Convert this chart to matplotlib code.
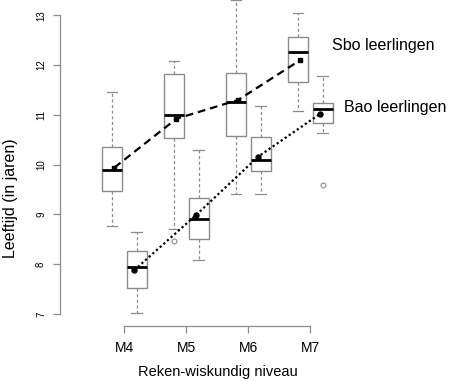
import matplotlib
matplotlib.use("Agg")
import matplotlib.pyplot as plt

plt.rcParams['font.family'] = ['Liberation Sans', 'DejaVu Sans']

levels = ["M4", "M5", "M6", "M7"]

# box stats per level: whisker low, q1, median, q3, whisker high
sbo_whislo = [8.76, 8.71, 9.40, 11.08]
sbo_q1 = [9.47, 10.54, 10.58, 11.66]
sbo_med = [9.89, 11.00, 11.25, 12.26]
sbo_q3 = [10.35, 11.81, 11.83, 12.56]
sbo_whishi = [11.46, 12.09, 13.30, 13.05]
sbo_fliers = [[], [8.46], [], []]
sbo_mean = [9.94, 10.92, 11.30, 12.10]

bao_whislo = [7.02, 8.08, 9.40, 10.64]
bao_q1 = [7.52, 8.51, 9.87, 10.83]
bao_med = [7.94, 8.91, 10.09, 11.12]
bao_q3 = [8.27, 9.32, 10.55, 11.24]
bao_whishi = [8.65, 10.29, 11.18, 11.78]
bao_fliers = [[], [], [], [9.59]]
bao_mean = [7.88, 8.99, 10.16, 11.02]

GRAY = "#8c8c8c"


def make_stats(lo, q1, med, q3, hi, fl):
    return [dict(whislo=a, q1=b, med=c, q3=d, whishi=e, fliers=f)
            for a, b, c, d, e, f in zip(lo, q1, med, q3, hi, fl)]


def draw_boxes(ax, stats, pos):
    ax.bxp(stats, positions=pos, widths=0.32, patch_artist=True,
           boxprops=dict(facecolor="white", edgecolor=GRAY, linewidth=1.0),
           whiskerprops=dict(color=GRAY, linestyle=(0, (2.5, 2)), linewidth=0.9),
           capprops=dict(color=GRAY, linewidth=0.9),
           medianprops=dict(color="black", linewidth=2.0, solid_capstyle="butt"),
           flierprops=dict(marker="o", markersize=3.5, markerfacecolor="none",
                           markeredgecolor=GRAY, markeredgewidth=0.8),
           capwidths=0.17, manage_ticks=False)


fig = plt.figure(figsize=(4.49, 3.81), dpi=100)
ax = fig.add_axes([60 / 449, 55.3 / 381, 280 / 449, 325.7 / 381])

x = list(range(1, len(levels) + 1))
sbo_pos = [i - 0.2 for i in x]
bao_pos = [i + 0.2 for i in x]

draw_boxes(ax, make_stats(sbo_whislo, sbo_q1, sbo_med, sbo_q3, sbo_whishi, sbo_fliers), sbo_pos)
draw_boxes(ax, make_stats(bao_whislo, bao_q1, bao_med, bao_q3, bao_whishi, bao_fliers), bao_pos)

ax.plot([p + 0.04 for p in sbo_pos], sbo_mean, color="black", linestyle=(0, (3.5, 2.2)),
        linewidth=1.6, marker="s", markersize=3.3, zorder=5, clip_on=False)
ax.plot([p - 0.04 for p in bao_pos], bao_mean, color="black", linestyle=(0, (1, 1.2)),
        linewidth=1.6, marker="o", markersize=3.6, zorder=5, clip_on=False)

ax.set_xlim(-0.037, 4.479)
ax.set_ylim(6.765, 13.305)

for s in ["top", "right"]:
    ax.spines[s].set_visible(False)
ax.spines["left"].set_bounds(7, 13)
ax.spines["bottom"].set_bounds(1, 4)
for s in ["left", "bottom"]:
    ax.spines[s].set_color(GRAY)
    ax.spines[s].set_linewidth(0.9)

ax.set_xticks(x)
ax.set_xticklabels(levels, fontsize=10)
ax.set_yticks(range(7, 14))
ax.set_yticklabels([str(v) for v in range(7, 14)], fontsize=7, rotation=90, va="center")
ax.tick_params(axis="both", color=GRAY, length=5, width=0.9)
ax.tick_params(axis="x", pad=6)
ax.tick_params(axis="y", pad=5)

ax.set_xlabel("Reken-wiskundig niveau", fontsize=10.5, va="center")
ax.xaxis.set_label_coords((218 - 60) / 280, -0.141)
ax.set_ylabel("Leeftijd (in jaren)", fontsize=11.5, va="center")
ax.yaxis.set_label_coords(-(60 - 11) / 280, 0.392)

ax.text(4.345, 12.4, "Sbo leerlingen", fontsize=11.5, va="center", ha="left")
ax.text(4.544, 11.14, "Bao leerlingen", fontsize=11.5, va="center", ha="left")

fig.savefig("out.png", dpi=100)
